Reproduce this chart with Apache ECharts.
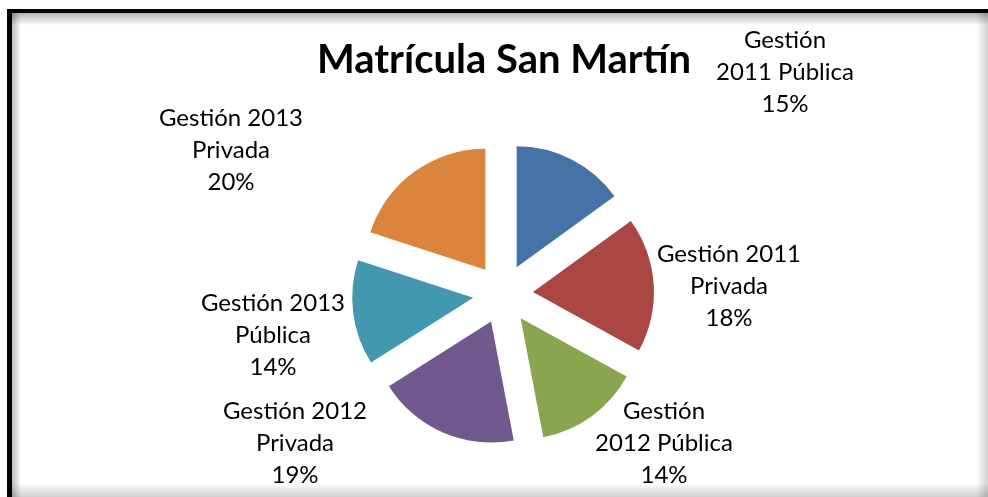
<!DOCTYPE html>
<html>
<head>
<meta charset="utf-8">
<script src="https://cdn.jsdelivr.net/npm/echarts@6/dist/echarts.min.js"></script>
<style>
  html, body { margin: 0; padding: 0; background: #fff; }
  #main { width: 988px; height: 497px; }
</style>
</head>
<body>
<div id="main"></div>
<script>
// datos
var categories = ['Gestión 2011 Pública', 'Gestión 2011 Privada', 'Gestión 2012 Pública',
                  'Gestión 2012 Privada', 'Gestión 2013 Pública', 'Gestión 2013 Privada'];
var values = [15, 18, 14, 19, 14, 20];
// como Excel corta las etiquetas
var labelLines = ['Gestión\n2011 Pública', 'Gestión 2011\nPrivada', 'Gestión\n2012 Pública',
                  'Gestión 2012\nPrivada', 'Gestión 2013\nPública', 'Gestión 2013\nPrivada'];
var colors = ['#4572A7', '#AA4643', '#89A54E', '#71588F', '#4198AF', '#DB843D'];
// centro de cada etiqueta (px)
var labelPos = [[785, 72], [729, 286], [664, 443], [295, 443], [273, 335], [231, 150]];

var chart = echarts.init(document.getElementById('main'));

var fontFam = 'Lato, "Open Sans", sans-serif';

var pieData = categories.map(function (c, i) {
    return { name: c, value: values[i] };
});

var option = {
    animation: false,
    color: colors,
    title: {
        text: 'Matrícula San Martín',
        left: 499,
        top: 35,
        textAlign: 'center',
        textStyle: { fontFamily: fontFam, fontSize: 40, fontWeight: 'bold', color: '#000' }
    },
    graphic: [
        // sombra interior
        { type: 'rect', shape: { x: 11, y: 13, width: 977, height: 12 }, z: 1,
          style: { fill: new echarts.graphic.LinearGradient(0, 0, 0, 1, [
              { offset: 0, color: 'rgba(0,0,0,0.3)' }, { offset: 1, color: 'rgba(0,0,0,0)' }]) } },
        { type: 'rect', shape: { x: 11, y: 13, width: 10, height: 484 }, z: 1,
          style: { fill: new echarts.graphic.LinearGradient(0, 0, 1, 0, [
              { offset: 0, color: 'rgba(0,0,0,0.3)' }, { offset: 1, color: 'rgba(0,0,0,0)' }]) } },
        { type: 'rect', shape: { x: 976, y: 13, width: 12, height: 484 }, z: 1,
          style: { fill: new echarts.graphic.LinearGradient(0, 0, 1, 0, [
              { offset: 0, color: 'rgba(0,0,0,0)' }, { offset: 1, color: 'rgba(0,0,0,0.18)' }]) } },
        { type: 'rect', shape: { x: 11, y: 483, width: 977, height: 14 }, z: 1,
          style: { fill: new echarts.graphic.LinearGradient(0, 0, 0, 1, [
              { offset: 0, color: 'rgba(0,0,0,0)' }, { offset: 1, color: 'rgba(0,0,0,0.18)' }]) } },
        // borde negro
        { type: 'rect', shape: { x: 7, y: 9, width: 981, height: 4 }, z: 2, style: { fill: '#000' } },
        { type: 'rect', shape: { x: 7, y: 9, width: 5, height: 488 }, z: 2, style: { fill: '#000' } }
    ],
    series: [{
        // porciones separadas
        type: 'pie',
        center: [503, 294],
        radius: [0, 121],
        startAngle: 90,
        clockwise: true,
        selectedMode: 'multiple',
        selectedOffset: 30,
        label: { show: false },
        labelLine: { show: false },
        itemStyle: { borderWidth: 0 },
        emphasis: { disabled: true },
        data: pieData.map(function (d) {
            return { name: d.name, value: d.value, selected: true };
        })
    }, {
        // solo etiquetas
        type: 'pie',
        center: [503, 294],
        radius: [0, 121],
        startAngle: 90,
        clockwise: true,
        silent: true,
        z: 3,
        avoidLabelOverlap: false,
        itemStyle: { color: 'rgba(0,0,0,0)', borderWidth: 0 },
        emphasis: { disabled: true },
        label: {
            show: true,
            position: 'outside',
            fontFamily: fontFam,
            fontSize: 24,
            lineHeight: 32,
            color: '#000',
            align: 'center',
            formatter: function (p) {
                return labelLines[p.dataIndex] + '\n' + Math.round(p.percent) + '%';
            }
        },
        labelLine: { show: false },
        labelLayout: function (p) {
            var pos = labelPos[p.dataIndex];
            return { x: pos[0], y: pos[1], align: 'center', verticalAlign: 'middle' };
        },
        data: pieData
    }]
};

chart.setOption(option);
</script>
</body>
</html>
